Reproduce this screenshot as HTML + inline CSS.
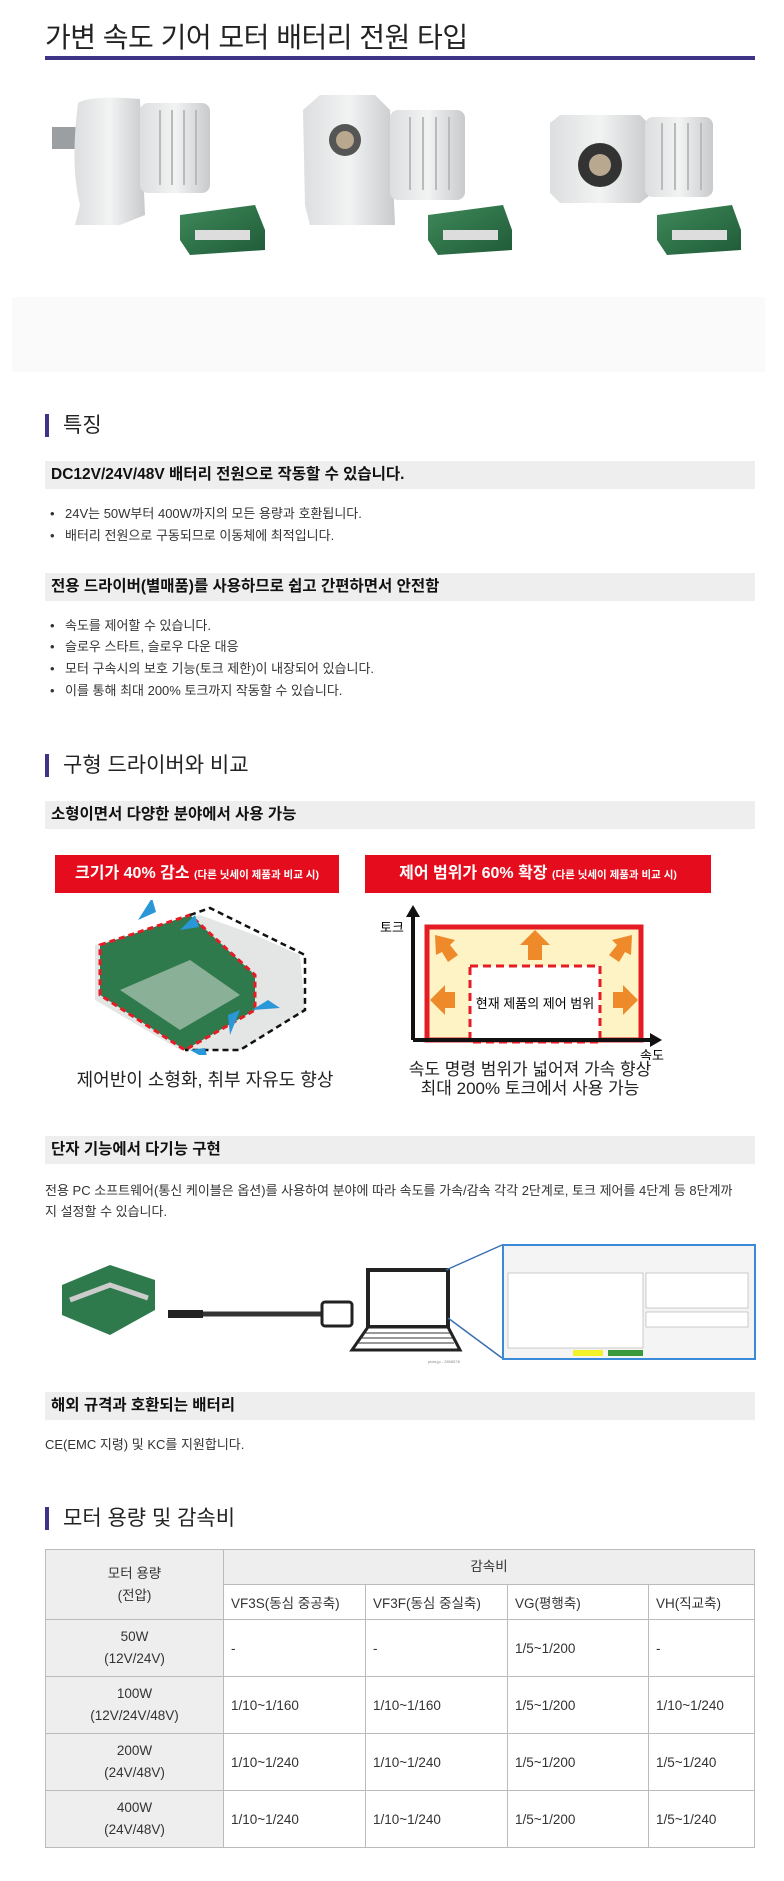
<!DOCTYPE html>
<html><head><meta charset="utf-8">
<style>
*{margin:0;padding:0;box-sizing:border-box}
body{width:784px;height:1881px;background:#fff;position:relative;font-family:"Liberation Sans","Noto Sans CJK KR",sans-serif;color:#222;overflow:hidden}
.a{position:absolute}
.title{left:45px;top:16px;font-size:28px;color:#222;letter-spacing:-0.5px}
.uline{left:45px;top:56px;width:710px;height:4px;background:#3e3487}
.h2{left:45px;font-size:21px;color:#222;padding-left:14px;border-left:4px solid #3e3487;line-height:23px}
.sub{left:45px;width:710px;height:28px;background:#eeeeee;font-size:15.5px;font-weight:bold;padding-left:6px;line-height:28px;color:#111}
.li{left:50px;font-size:13px;color:#333;line-height:16px}
.li:before{content:"•";position:absolute;left:0;}
.li span{padding-left:15px}
.p{left:45px;font-size:13px;color:#333}
table{border-collapse:collapse;font-size:13.5px;color:#333}
td{border:1px solid #bbb;padding:0 7px;vertical-align:middle}
td.h{background:#eeeeee;text-align:center;line-height:34px}
</style></head><body>
<div class="a title">가변 속도 기어 모터 배터리 전원 타입</div>
<div class="a uline"></div>

<svg class="a" style="left:0;top:85px" width="784" height="200">
<defs>
<linearGradient id="mg" x1="0" x2="1"><stop offset="0" stop-color="#dcdedf"/><stop offset=".5" stop-color="#f2f3f3"/><stop offset="1" stop-color="#c8cacc"/></linearGradient>
<linearGradient id="pcb" x1="0" x2="1" y1="0" y2="1"><stop offset="0" stop-color="#3f8a5a"/><stop offset="1" stop-color="#1f5a38"/></linearGradient>
</defs>
<rect x="52" y="42" width="30" height="22" fill="#9c9fa1"/>
<path d="M78 18 Q90 10 140 14 L145 130 L120 140 L75 140 L80 120 Q70 80 78 18Z" fill="url(#mg)"/>
<rect x="140" y="18" width="70" height="90" rx="8" fill="url(#mg)"/>
<g stroke="#b8babc" stroke-width="2"><line x1="160" y1="25" x2="160" y2="100"/><line x1="172" y1="25" x2="172" y2="100"/><line x1="184" y1="25" x2="184" y2="100"/><line x1="196" y1="25" x2="196" y2="100"/></g>
<path d="M303 25 L320 10 L375 10 L390 25 L395 140 L310 140 L305 120Z" fill="url(#mg)"/>
<circle cx="345" cy="55" r="16" fill="#555"/><circle cx="345" cy="55" r="9" fill="#b8a890"/>
<rect x="390" y="25" width="75" height="90" rx="8" fill="url(#mg)"/>
<g stroke="#b8babc" stroke-width="2"><line x1="410" y1="32" x2="410" y2="105"/><line x1="423" y1="32" x2="423" y2="105"/><line x1="436" y1="32" x2="436" y2="105"/><line x1="449" y1="32" x2="449" y2="105"/></g>
<path d="M550 38 L560 30 L640 30 L650 40 L650 110 L640 118 L560 118 L550 108Z" fill="url(#mg)"/>
<circle cx="600" cy="80" r="22" fill="#333"/><circle cx="600" cy="80" r="11" fill="#b8a890"/>
<rect x="645" y="32" width="68" height="80" rx="8" fill="url(#mg)"/>
<g stroke="#b8babc" stroke-width="2"><line x1="662" y1="38" x2="662" y2="105"/><line x1="675" y1="38" x2="675" y2="105"/><line x1="688" y1="38" x2="688" y2="105"/><line x1="701" y1="38" x2="701" y2="105"/></g>
<g><path d="M180 130 L255 120 L265 145 L265 165 L190 170 L180 155Z" fill="url(#pcb)"/><rect x="195" y="145" width="55" height="10" fill="#ddd"/></g>
<g><path d="M428 130 L503 120 L512 145 L512 165 L438 170 L428 155Z" fill="url(#pcb)"/><rect x="443" y="145" width="55" height="10" fill="#ddd"/></g>
<g><path d="M657 130 L732 120 L741 145 L741 165 L667 170 L657 155Z" fill="url(#pcb)"/><rect x="672" y="145" width="55" height="10" fill="#ddd"/></g>
</svg>
<div class="a" style="left:12px;top:297px;width:753px;height:75px;background:#fafafa"></div>

<div class="a h2" style="top:414px">특징</div>
<div class="a sub" style="top:461px">DC12V/24V/48V 배터리 전원으로 작동할 수 있습니다.</div>
<div class="a li" style="top:506px"><span>24V는 50W부터 400W까지의 모든 용량과 호환됩니다.</span></div>
<div class="a li" style="top:528px"><span>배터리 전원으로 구동되므로 이동체에 최적입니다.</span></div>
<div class="a sub" style="top:573px">전용 드라이버(별매품)를 사용하므로 쉽고 간편하면서 안전함</div>
<div class="a li" style="top:618px"><span>속도를 제어할 수 있습니다.</span></div>
<div class="a li" style="top:639px"><span>슬로우 스타트, 슬로우 다운 대응</span></div>
<div class="a li" style="top:661px"><span>모터 구속시의 보호 기능(토크 제한)이 내장되어 있습니다.</span></div>
<div class="a li" style="top:683px"><span>이를 통해 최대 200% 토크까지 작동할 수 있습니다.</span></div>

<div class="a h2" style="top:754px">구형 드라이버와 비교</div>
<div class="a sub" style="top:801px">소형이면서 다양한 분야에서 사용 가능</div>

<div class="a" style="left:55px;top:855px;width:284px;height:38px;background:#e50d1d;color:#fff;font-weight:bold;font-size:16px;line-height:38px;text-align:center">크기가 40% 감소 <span style="font-size:10.5px">(다른 닛세이 제품과 비교 시)</span></div>
<div class="a" style="left:365px;top:855px;width:346px;height:38px;background:#e50d1d;color:#fff;font-weight:bold;font-size:16px;line-height:38px;text-align:center">제어 범위가 60% 확장 <span style="font-size:10.5px">(다른 닛세이 제품과 비교 시)</span></div>

<svg class="a" style="left:90px;top:900px" width="220" height="155">
<path d="M110 15 L165 35 L210 55 L215 110 L150 150 L90 150 L5 100 L5 45 Z" fill="#e4e6e6"/>
<path d="M10 45 L100 15 L165 75 L165 110 L95 150 L10 95Z" fill="#2f7a4c"/>
<path d="M30 90 L100 60 L150 95 L90 130Z" fill="#c9d3cc" opacity=".6"/>
<path d="M10 45 L100 15 L165 75 L165 110 L95 150 L10 95Z" fill="none" stroke="#e51c24" stroke-width="3" stroke-dasharray="6 4"/>
<path d="M100 15 L120 8 L215 55 L215 110 L150 150 L95 150" fill="none" stroke="#111" stroke-width="2.5" stroke-dasharray="6 4"/>
<g fill="#2a98d8"><path d="M48 20 L62 -2 L66 12Z"/><path d="M90 30 L105 15 L109 27Z"/><path d="M162 110 L190 108 L178 100Z"/><path d="M140 135 L150 110 L138 115Z"/><path d="M100 150 L118 160 L115 148Z"/></g>
</svg>
<div class="a" style="left:55px;top:1066px;width:300px;text-align:center;font-size:18px;color:#222">제어반이 소형화, 취부 자유도 향상</div>

<svg class="a" style="left:370px;top:900px" width="300" height="160">
<rect x="57" y="27" width="214" height="113" fill="#fdf3c4" stroke="#e51c24" stroke-width="5"/>
<rect x="100" y="66" width="130" height="76" fill="#fff" stroke="#e51c24" stroke-width="3" stroke-dasharray="8 5"/>
<g fill="#ef8a2a"><path d="M165 30 L180 45 L172 45 L172 60 L158 60 L158 45 L150 45Z"/><path d="M60 100 L75 85 L75 92 L85 92 L85 108 L75 108 L75 115Z"/><path d="M268 100 L253 85 L253 92 L243 92 L243 108 L253 108 L253 115Z"/><path d="M65 35 L85 40 L80 45 L88 55 L78 62 L72 52 L66 55Z"/><path d="M262 35 L242 40 L247 45 L239 55 L249 62 L255 52 L261 55Z"/></g>
<line x1="43" y1="140" x2="285" y2="140" stroke="#111" stroke-width="4"/>
<path d="M292 140 L280 133 L280 147Z" fill="#111"/>
<line x1="43" y1="140" x2="43" y2="12" stroke="#111" stroke-width="4"/>
<path d="M43 5 L36 17 L50 17Z" fill="#111"/>
<text x="10" y="32" font-size="13" font-family="Liberation Sans,Noto Sans CJK KR,sans-serif">토크</text>
<text x="165" y="108" font-size="13" text-anchor="middle" font-family="Liberation Sans,Noto Sans CJK KR,sans-serif">현재 제품의 제어 범위</text>
<text x="270" y="160" font-size="13" font-family="Liberation Sans,Noto Sans CJK KR,sans-serif">속도</text>
</svg>
<div class="a" style="left:380px;top:1060px;width:300px;text-align:center;font-size:17px;line-height:19px;color:#222">속도 명령 범위가 넓어져 가속 향상<br>최대 200% 토크에서 사용 가능</div>

<div class="a sub" style="top:1136px">단자 기능에서 다기능 구현</div>
<div class="a p" style="top:1180px;width:720px;line-height:21px;white-space:nowrap">전용 PC 소프트웨어(통신 케이블은 옵션)를 사용하여 분야에 따라 속도를 가속/감속 각각 2단계로, 토크 제어를 4단계 등 8단계까<br>지 설정할 수 있습니다.</div>

<svg class="a" style="left:0;top:1240px" width="784" height="125">
<path d="M62 45 L110 25 L155 40 L155 70 L110 95 L62 75Z" fill="#2f7a4c"/>
<path d="M70 60 L110 45 L148 58" stroke="#ccc" stroke-width="5" fill="none"/>
<rect x="168" y="70" width="35" height="8" fill="#222"/>
<line x1="203" y1="74" x2="325" y2="74" stroke="#333" stroke-width="5"/>
<rect x="322" y="62" width="30" height="24" rx="3" fill="#fff" stroke="#222" stroke-width="3"/>
<rect x="368" y="30" width="80" height="57" fill="#fff" stroke="#222" stroke-width="4"/>
<path d="M368 87 L448 87 L460 110 L352 110Z" fill="#fff" stroke="#222" stroke-width="3"/>
<g stroke="#333" stroke-width="1"><line x1="362" y1="93" x2="450" y2="93"/><line x1="360" y1="98" x2="452" y2="98"/><line x1="358" y1="103" x2="454" y2="103"/></g>
<line x1="446" y1="30" x2="502" y2="5" stroke="#3a6fb0" stroke-width="1.5"/>
<line x1="448" y1="78" x2="502" y2="118" stroke="#3a6fb0" stroke-width="1.5"/>
<rect x="503" y="5" width="252" height="114" fill="#f4f4f4" stroke="#3a8ad8" stroke-width="2"/>
<rect x="508" y="33" width="135" height="75" fill="#fff" stroke="#999" stroke-width=".5"/>
<rect x="646" y="33" width="102" height="35" fill="#fff" stroke="#999" stroke-width=".5"/>
<rect x="646" y="72" width="102" height="15" fill="#fff" stroke="#999" stroke-width=".5"/>
<rect x="573" y="110" width="30" height="6" fill="#f2f22a"/>
<rect x="608" y="110" width="35" height="6" fill="#3a9a3a"/>
<text x="428" y="123" font-size="4" fill="#888">pixta.jp - 2898578</text>
</svg>

<div class="a sub" style="top:1392px">해외 규격과 호환되는 배터리</div>
<div class="a p" style="top:1434px">CE(EMC 지령) 및 KC를 지원합니다.</div>

<div class="a h2" style="top:1507px">모터 용량 및 감속비</div>

<table class="a" style="left:45px;top:1549px;width:710px">
<tr style="height:35px"><td class="h" rowspan="2" style="width:178px;line-height:22px">모터 용량<br>(전압)</td><td class="h" colspan="4">감속비</td></tr>
<tr style="height:35px"><td style="width:142px">VF3S(동심 중공축)</td><td style="width:142px">VF3F(동심 중실축)</td><td style="width:141px">VG(평행축)</td><td>VH(직교축)</td></tr>
<tr style="height:57px"><td class="h" style="line-height:22px">50W<br>(12V/24V)</td><td>-</td><td>-</td><td>1/5~1/200</td><td>-</td></tr>
<tr style="height:57px"><td class="h" style="line-height:22px">100W<br>(12V/24V/48V)</td><td>1/10~1/160</td><td>1/10~1/160</td><td>1/5~1/200</td><td>1/10~1/240</td></tr>
<tr style="height:57px"><td class="h" style="line-height:22px">200W<br>(24V/48V)</td><td>1/10~1/240</td><td>1/10~1/240</td><td>1/5~1/200</td><td>1/5~1/240</td></tr>
<tr style="height:57px"><td class="h" style="line-height:22px">400W<br>(24V/48V)</td><td>1/10~1/240</td><td>1/10~1/240</td><td>1/5~1/200</td><td>1/5~1/240</td></tr>
</table>
</body></html>
